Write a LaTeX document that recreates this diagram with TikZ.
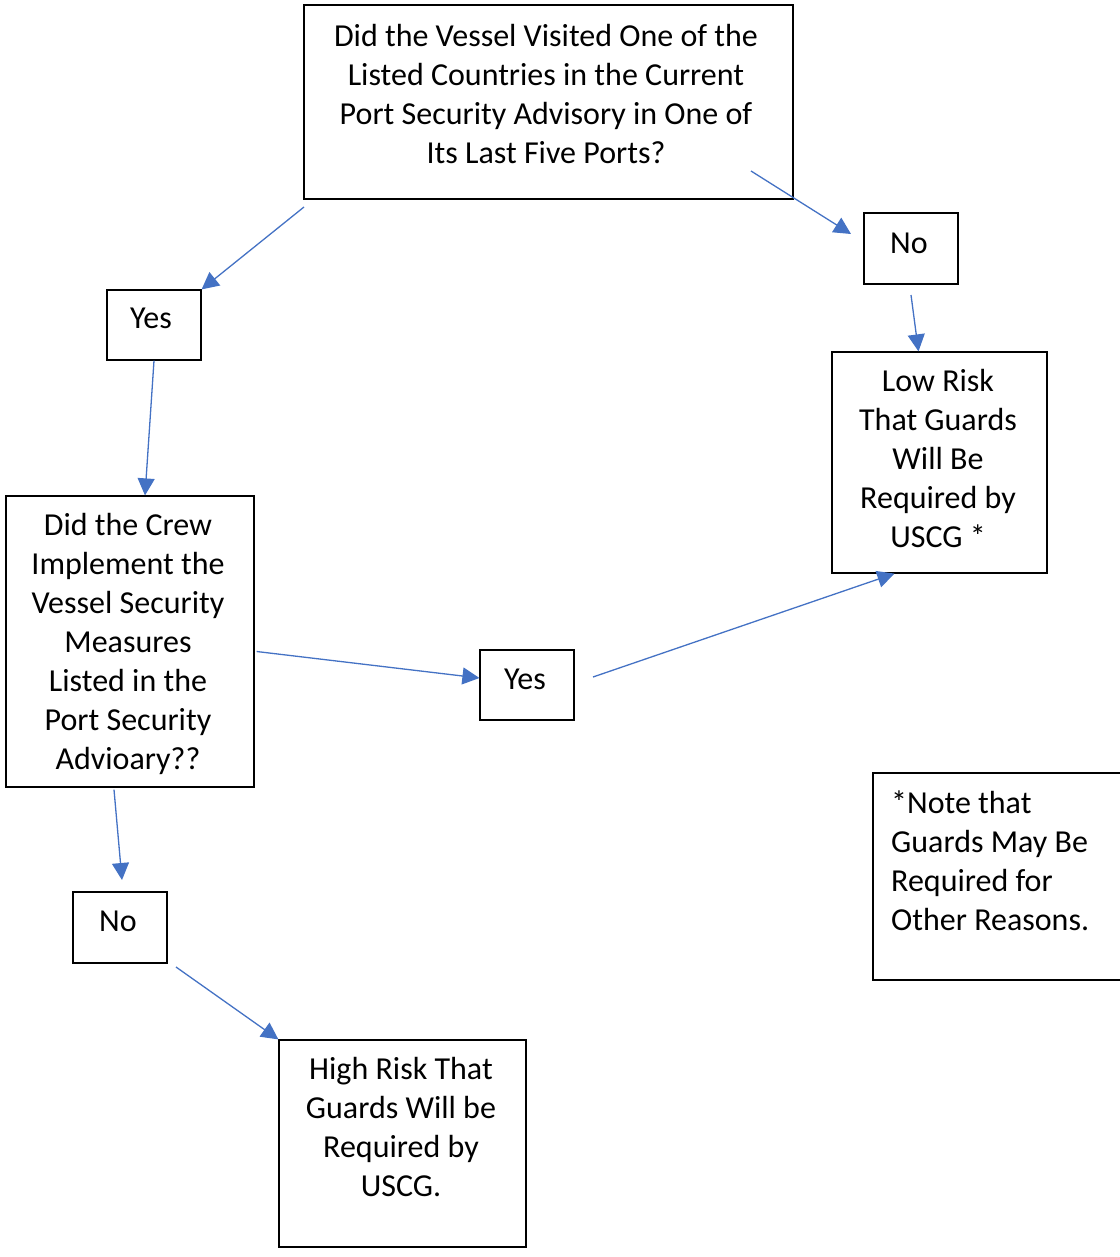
\documentclass[tikz,border=0pt]{standalone}
\usepackage{fontspec}
\setmainfont{Carlito}
\usetikzlibrary{arrows.meta,positioning,calc}
\definecolor{wordblue}{HTML}{4472C4}
\tikzset{
  box/.style={rectangle, draw=black, line width=1.2pt, inner sep=0pt},
  txt/.style={align=center, inner sep=0pt, font=\fontsize{32}{39}\selectfont},
  link/.style={draw=wordblue, line width=1.3pt, -{Triangle[length=17pt,width=17pt]}}
}
\begin{document}
\begin{tikzpicture}[x=1pt, y=-1pt]
    \useasboundingbox (0,0) rectangle (1119,1257);

    % boxes
    \node(q1)[box, line width=2.6pt, minimum width=489pt, minimum height=194pt] at (548.5,102) {};
    \node(no1)[box, minimum width=94pt, minimum height=71pt] at (911,248.5) {};
    \node(yes1)[box, minimum width=94pt, minimum height=70pt] at (154,325) {};
    \node(low)[box, minimum width=215pt, minimum height=221pt] at (939.5,462.5) {};
    \node(crew)[box, minimum width=248pt, minimum height=291pt] at (130,641.5) {};
    \node(yes2)[box, minimum width=94pt, minimum height=70pt] at (527,685) {};
    \node(note)[box, minimum width=260pt, minimum height=207pt] at (1003,876.5) {};
    \node(no2)[box, minimum width=94pt, minimum height=71pt] at (120,927.5) {};
    \node(high)[box, minimum width=247pt, minimum height=207pt] at (402.5,1143.5) {};

    % texts
    \node(q1txt)[txt] at (546,94) {Did the Vessel Visited One of the\\Listed Countries in the Current\\Port Security Advisory in One of\\Its Last Five Ports?};
    \node(no1txt)[txt] at (909,243) {No};
    \node(yes1txt)[txt] at (151,318) {Yes};
    \node(lowtxt)[txt] at (938,458.5) {Low Risk\\That Guards\\Will Be\\Required by\\USCG *};
    \node(crewtxt)[txt] at (128,643.5) {Did the Crew\\Implement the\\Vessel Security\\Measures\\Listed in the\\Port Security\\Advioary??};
    \node(yes2txt)[txt] at (525,679) {Yes};
    \node(notetxt)[txt, align=left, anchor=west] at (891,860.5) {*Note that\\Guards May Be\\Required for\\Other Reasons.};
    \node(no2txt)[txt] at (118,921) {No};
    \node(hightxt)[txt] at (401,1127) {High Risk That\\Guards Will be\\Required by\\USCG.};

    % free ends of the connectors
    \coordinate(q1out) at (751,171);
    \coordinate(no1in) at (851,234);
    \coordinate(q1yes) at (304,207);
    \coordinate(no1out) at (911,295);
    \coordinate(yes2out) at (593,677);
    \coordinate(no2in) at (122,880);
    \coordinate(no2out) at (176,967);

    \draw[link] (q1out) -- (no1in);
    \draw[link] (q1yes) -- (yes1.north east);
    \draw[link] (yes1.south) -- ($(crew.north)+(15,0)$);
    \draw[link] (no1out) -- ($(low.north)+(-21,0)$);
    \draw[link] ($(crew.east)+(2,10)$) -- ($(yes2.west)+(0,-7)$);
    \draw[link] (yes2out) -- ($(low.south west)+(63,0)$);
    \draw[link] ($(crew.south)+(-16,2)$) -- (no2in);
    \draw[link] (no2out) -- (high.north west);

\end{tikzpicture}
\end{document}
